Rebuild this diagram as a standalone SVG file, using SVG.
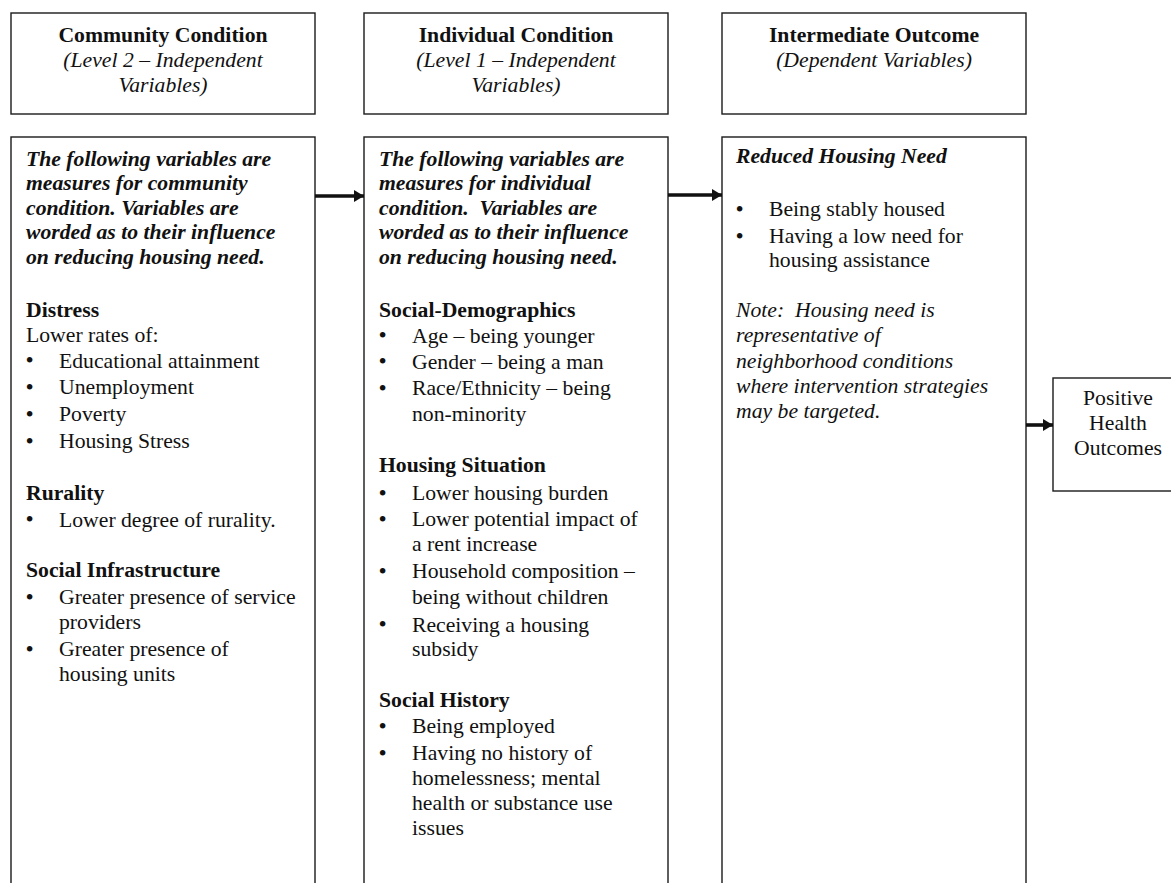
<svg xmlns="http://www.w3.org/2000/svg" width="1171" height="883" viewBox="0 0 1171 883">
<style>
.box{fill:#fff;stroke:#1a1a1a;stroke-width:1.4}
text{font-family:"Liberation Serif","Times New Roman",serif;font-size:21.7px;fill:#111;white-space:pre}
.b{font-weight:bold}
.i{font-style:italic}
.bi{font-weight:bold;font-style:italic}
.c{text-anchor:middle}
.d{font-size:23.5px}
.conn line{stroke:#111;stroke-width:3.6}
</style>
<defs>
<marker id="ah" markerUnits="userSpaceOnUse" markerWidth="10" markerHeight="12" refX="10" refY="6" orient="auto">
<path d="M0,0 L10,6 L0,12 Z" fill="#111"/>
</marker>
</defs>
<rect width="1171" height="883" fill="#fff"/>

<g id="hdr-community">
<rect class="box" x="11" y="13" width="304" height="101"/>
<text class="b c" x="163" y="42">Community Condition</text>
<text class="i c" x="163" y="67">(Level 2 – Independent</text>
<text class="i c" x="163" y="92">Variables)</text>
</g>

<g id="hdr-individual">
<rect class="box" x="364" y="13" width="304" height="101"/>
<text class="b c" x="516" y="42">Individual Condition</text>
<text class="i c" x="516" y="67">(Level 1 – Independent</text>
<text class="i c" x="516" y="92">Variables)</text>
</g>

<g id="hdr-outcome">
<rect class="box" x="722" y="13" width="304" height="101"/>
<text class="b c" x="874" y="42">Intermediate Outcome</text>
<text class="i c" x="874" y="67">(Dependent Variables)</text>
</g>

<g id="community">
<rect class="box" x="11" y="137" width="304" height="800"/>
<text class="bi" x="26" y="165.7">The following variables are</text>
<text class="bi" x="26" y="190.2">measures for community</text>
<text class="bi" x="26" y="214.6">condition. Variables are</text>
<text class="bi" x="26" y="239">worded as to their influence</text>
<text class="bi" x="26" y="263.5">on reducing housing need.</text>
<text class="b" x="26" y="316.7">Distress</text>
<text x="26" y="341.7">Lower rates of:</text>
<text class="d" x="25.5" y="368.2">•</text><text x="59" y="367.7">Educational attainment</text>
<text class="d" x="25.5" y="394.8">•</text><text x="59" y="394.3">Unemployment</text>
<text class="d" x="25.5" y="421.8">•</text><text x="59" y="421.3">Poverty</text>
<text class="d" x="25.5" y="448.8">•</text><text x="59" y="448.3">Housing Stress</text>
<text class="b" x="26" y="500">Rurality</text>
<text class="d" x="25.5" y="527.2">•</text><text x="59" y="526.7">Lower degree of rurality.</text>
<text class="b" x="26" y="576.7">Social Infrastructure</text>
<text class="d" x="25.5" y="604.5">•</text><text x="59" y="604">Greater presence of service</text>
<text x="59" y="629.3">providers</text>
<text class="d" x="25.5" y="656.5">•</text><text x="59" y="656">Greater presence of</text>
<text x="59" y="681">housing units</text>
</g>

<g id="individual">
<rect class="box" x="364" y="137" width="304" height="800"/>
<text class="bi" x="379" y="165.7">The following variables are</text>
<text class="bi" x="379" y="190.2">measures for individual</text>
<text class="bi" x="379" y="214.6">condition.  Variables are</text>
<text class="bi" x="379" y="239">worded as to their influence</text>
<text class="bi" x="379" y="263.5">on reducing housing need.</text>
<text class="b" x="379" y="316.7">Social-Demographics</text>
<text class="d" x="378.5" y="343.2">•</text><text x="412" y="342.7">Age – being younger</text>
<text class="d" x="378.5" y="369">•</text><text x="412" y="368.5">Gender – being a man</text>
<text class="d" x="378.5" y="395.5">•</text><text x="412" y="395">Race/Ethnicity – being</text>
<text x="412" y="420.7">non-minority</text>
<text class="b" x="379" y="472.3">Housing Situation</text>
<text class="d" x="378.5" y="500.5">•</text><text x="412" y="500">Lower housing burden</text>
<text class="d" x="378.5" y="526.5">•</text><text x="412" y="526">Lower potential impact of</text>
<text x="412" y="550.5">a rent increase</text>
<text class="d" x="378.5" y="578.8">•</text><text x="412" y="578.3">Household composition –</text>
<text x="412" y="604">being without children</text>
<text class="d" x="378.5" y="632">•</text><text x="412" y="631.5">Receiving a housing</text>
<text x="412" y="655.5">subsidy</text>
<text class="b" x="379" y="706.7">Social History</text>
<text class="d" x="378.5" y="733.8">•</text><text x="412" y="733.3">Being employed</text>
<text class="d" x="378.5" y="760.5">•</text><text x="412" y="760">Having no history of</text>
<text x="412" y="785">homelessness; mental</text>
<text x="412" y="810">health or substance use</text>
<text x="412" y="835">issues</text>
</g>

<g id="outcome">
<rect class="box" x="722" y="137" width="304" height="800"/>
<text class="bi" x="736" y="163.3">Reduced Housing Need</text>
<text class="d" x="735.5" y="216.5">•</text><text x="769" y="216">Being stably housed</text>
<text class="d" x="735.5" y="243.8">•</text><text x="769" y="243.3">Having a low need for</text>
<text x="769" y="266.7">housing assistance</text>
<text class="i" x="736" y="316.7">Note:  Housing need is</text>
<text class="i" x="736" y="342.1">representative of</text>
<text class="i" x="736" y="367.5">neighborhood conditions</text>
<text class="i" x="736" y="392.9">where intervention strategies</text>
<text class="i" x="736" y="418.3">may be targeted.</text>
</g>

<g id="health">
<rect class="box" x="1053" y="378" width="140" height="113"/>
<text class="c" x="1118" y="405">Positive</text>
<text class="c" x="1118" y="430">Health</text>
<text class="c" x="1118" y="455">Outcomes</text>
</g>

<g class="conn" id="connectors">
<line x1="315" y1="196" x2="364" y2="196" marker-end="url(#ah)"/>
<line x1="668" y1="195" x2="722" y2="195" marker-end="url(#ah)"/>
<line x1="1026" y1="425" x2="1053" y2="425" marker-end="url(#ah)"/>
</g>
</svg>
